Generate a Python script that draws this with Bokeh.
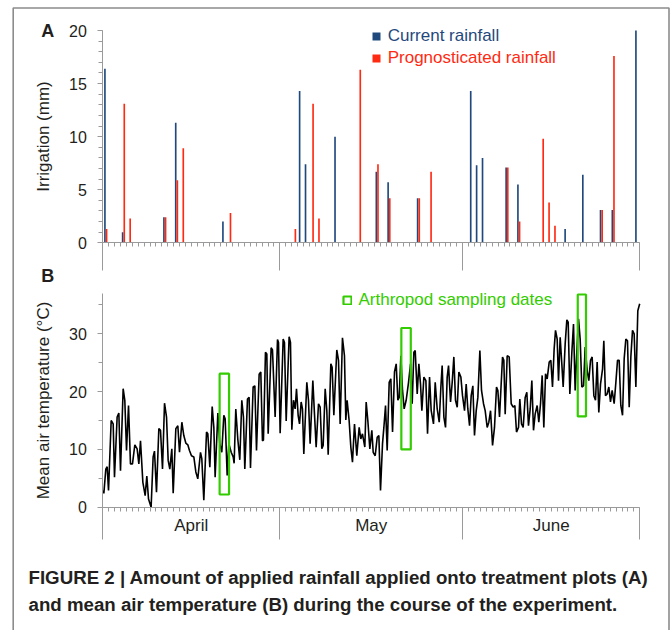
from bokeh.plotting import figure
from bokeh.models import (Range1d, FixedTicker, Label, ColumnDataSource, LinearAxis,
                          Legend, LegendItem, BoxAnnotation)
from bokeh.transform import dodge
from bokeh.embed import file_html
from bokeh.resources import INLINE

FONT = "Liberation Sans"
BLUE = "#1f497d"
RED = "#ff2a12"
GREEN = "#33cc00"
AX = "#9a9a9a"
TXT = "#231f20"

# ---------------- data ----------------
months = ["April", "May", "June"]
month_start = [0, 30, 61]
month_end = [30, 61, 91]

rain_day = [0, 3, 4, 10, 12, 13, 20, 21, 32, 33, 34, 35, 36, 39, 43, 46,
            48, 53, 55, 62, 63, 64, 68, 70, 74, 75, 76, 78, 81, 84, 86, 90]
current_mm = [16.4, 1.0, 0, 2.4, 11.3, 0, 2.0, 0, 0, 14.3, 7.4, 0, 0, 10.0, 0, 6.7,
              5.7, 4.2, 0, 14.3, 7.3, 8.0, 7.1, 5.5, 0, 0, 0, 1.3, 6.4, 3.1, 3.1, 20.0]
prog_mm = [1.3, 13.1, 2.3, 2.4, 5.9, 8.9, 0, 2.8, 1.3, 0, 0, 13.1, 2.3, 0, 16.3, 7.4,
           4.2, 4.2, 6.7, 0, 0, 0, 7.1, 2.0, 9.8, 3.8, 1.6, 0, 0, 3.1, 17.6, 0]

temp_day = [
    0.0, 0.18, 0.51, 0.74, 0.97, 1.42, 1.76, 1.98, 2.43, 2.72,
    3.0, 3.45, 3.73, 4.02, 4.36, 4.69, 5.03, 5.43, 5.82, 6.11,
    6.39, 6.79, 7.18, 7.46, 7.75, 8.19, 8.53, 8.76, 9.1, 9.5,
    9.78, 10.12, 10.46, 10.8, 11.08, 11.36, 11.7, 11.93, 12.38, 12.72,
    13.0, 13.4, 13.73, 14.07, 14.41, 14.69, 15.03, 15.43, 15.77, 16.1,
    16.56, 16.78, 17.12, 17.58, 17.8, 18.14, 18.54, 18.82, 19.04, 19.5,
    19.83, 20.17, 20.51, 20.74, 21.08, 21.36, 21.76, 22.1,
    22.26, 22.54, 22.88, 23.22, 23.56, 23.84, 24.07, 24.52, 24.8, 25.03,
    25.48, 25.77, 26.05, 26.5, 26.78, 27.06, 27.23, 27.57, 27.8, 28.03,
    28.53, 28.76, 29.21, 29.61, 29.78, 30.06, 30.57, 30.79, 31.08, 31.58,
    31.81, 32.04, 32.32, 32.6, 32.83, 33.11, 33.34, 33.62, 33.84, 34.07,
    34.58, 34.86, 35.14, 35.6, 35.88, 36.16, 36.56, 36.84, 37.12, 37.35,
    37.69, 37.97, 38.2, 38.65, 38.87, 39.16, 39.66, 39.95, 40.23, 40.62,
    40.96, 41.19, 41.41, 41.75, 42.04, 42.32, 42.66, 43.05, 43.45, 43.73,
    44.01, 44.41,
    44.64, 44.92, 45.26, 45.6, 45.83, 46.17, 46.51, 46.79, 47.07, 47.41,
    47.64, 47.92, 48.2, 48.54, 48.82, 49.11, 49.44, 49.73, 50.01, 50.24,
    50.52, 50.8, 51.08, 51.42, 51.82, 52.16, 52.44, 52.72, 52.95, 53.29,
    53.57, 53.85, 54.08, 54.42, 54.76, 55.04, 55.38, 55.66, 56.05, 56.34,
    56.68, 57.02, 57.3, 57.52, 57.81, 58.09, 58.37, 58.6, 58.94, 59.22,
    59.5, 59.78, 60.07, 60.35, 60.69, 60.97, 61.31, 61.59, 61.87, 62.16,
    62.44, 62.72, 63.0, 63.29, 63.57, 63.91, 64.19, 64.53, 64.81, 65.15,
    65.43, 65.72, 66.06, 66.39,
    66.73, 66.96, 67.24, 67.52, 67.75, 67.97, 68.2, 68.54, 68.88, 69.22,
    69.55, 69.84, 70.12, 70.46, 70.68, 70.97, 71.25, 71.59, 71.87, 72.15,
    72.44, 72.72, 73.0, 73.28, 73.62, 73.9, 74.19, 74.47, 74.75, 75.04,
    75.32, 75.66, 75.94, 76.22, 76.5, 76.73, 77.01, 77.24, 77.52, 77.8,
    78.03, 78.37, 78.65, 78.88, 79.16, 79.5, 79.78, 80.06, 80.35, 80.63,
    80.91, 81.19, 81.48, 81.76, 82.1, 82.38, 82.66, 82.94, 83.23, 83.51,
    83.79, 84.07, 84.36, 84.7, 84.92, 85.2, 85.49, 85.77, 86.05, 86.33,
    86.67, 86.96, 87.24, 87.52, 87.8, 88.09, 88.37, 88.65, 88.93, 89.22,
    89.5, 89.78, 90.06, 90.35, 90.68, 91.0,
]
temp_c = [
    2.9, 2.4, 6.6, 7.0, 2.9, 15.0, 14.4, 5.2, 15.6, 16.3,
    6.3, 20.5, 18.5, 9.8, 17.6, 7.5, 7.5, 10.8, 10.1, 7.5,
    11.5, 4.3, 2.0, 5.4, 1.4, 0.0, 8.7, 9.7, 2.6, 13.6,
    13.3, 6.6, 18.0, 15.6, 8.1, 6.6, 10.1, 2.4, 13.6, 14.1,
    9.5, 14.7, 12.4, 11.1, 10.8, 9.8, 8.9, 8.7, 6.1, 4.9,
    9.5, 8.4, 1.2, 13.0, 12.7, 6.9, 17.4, 13.8, 5.2, 16.3,
    11.0, 9.5, 15.9, 15.3, 5.5, 11.0, 9.5, 8.7,
    7.6, 17.0, 11.8, 8.2, 18.5, 15.6, 6.6, 18.7, 19.0, 6.8,
    20.8, 21.0, 9.8, 23.0, 23.4, 11.5, 11.6, 26.8, 26.5, 12.7,
    27.6, 27.2, 15.6, 29.0, 28.5, 12.8, 29.1, 28.5, 14.9, 29.5,
    28.5, 13.4, 18.5, 17.0, 20.5, 15.9, 14.4, 18.2, 17.0, 9.2,
    21.6, 18.5, 11.0, 21.9, 16.1, 10.4, 17.9, 17.3, 10.1, 10.7,
    20.5, 16.7, 9.1, 24.8, 24.2, 15.9, 27.2, 25.4, 14.4, 29.3,
    26.2, 15.1, 18.5, 15.0, 10.4, 7.8, 14.4, 8.9, 13.8, 11.8,
    12.7, 10.4,
    18.2, 15.0, 10.1, 13.3, 9.5, 8.9, 12.1, 12.4, 2.9, 11.0,
    13.8, 17.6, 9.8, 21.6, 22.2, 13.0, 23.4, 24.8, 18.5, 19.0,
    26.2, 20.2, 17.0, 18.5, 21.6, 24.8, 17.9, 26.8, 27.1, 19.6,
    24.8, 21.3, 16.7, 22.5, 21.9, 12.7, 22.5, 16.7, 14.4, 21.6,
    17.0, 14.7, 20.8, 24.5, 15.6, 13.8, 22.5, 24.5, 18.2, 21.6,
    26.0, 18.5, 17.3, 23.4, 22.5, 19.3, 16.7, 21.3, 17.0, 14.1,
    19.3, 21.0, 12.4, 16.7, 19.0, 27.1, 20.2, 17.9, 16.7, 13.8,
    14.7, 16.7, 10.7, 13.8,
    20.8, 20.2, 15.6, 21.3, 26.0, 25.4, 16.1, 26.2, 26.0, 17.9,
    17.3, 17.6, 13.0, 13.8, 18.7, 14.4, 13.8, 19.0, 19.9, 14.1,
    17.0, 21.9, 13.3, 16.1, 17.6, 14.7, 17.9, 22.8, 13.8, 23.1,
    22.2, 25.1, 25.4, 20.8, 27.4, 30.6, 29.1, 21.9, 29.4, 24.8,
    20.8, 28.3, 32.4, 32.0, 19.6, 26.8, 31.7, 20.2, 27.1, 32.6,
    29.1, 20.8, 21.0, 27.7, 23.6, 21.9, 25.4, 26.0, 19.3, 18.5,
    25.1, 16.4, 21.3, 23.9, 28.8, 19.3, 19.6, 20.8, 18.2, 20.2,
    17.9, 21.6, 25.4, 25.4, 17.6, 15.9, 25.7, 29.1, 28.8, 17.3,
    26.0, 30.6, 30.0, 20.8, 34.0, 35.2,
]

sampling_start = [19.8, 50.6, 80.5]
sampling_end = [21.4, 52.2, 81.9]
sampling_low = [2.2, 10.0, 15.7]
sampling_high = [23.1, 31.0, 36.8]

irr_ticks = [0, 5, 10, 15, 20]
temp_ticks = [0, 10, 20, 30]
temp_minor = [5, 15, 25, 35]

caption_1 = "FIGURE 2 | Amount of applied rainfall applied onto treatment plots (A)"
caption_2 = "and mean air temperature (B) during the course of the experiment."

# ---------------- layout (pixels of the page; the canvas sits at 0,0) ----------------
W, H = 670, 630
PX_DAY = 5.9               # px per day
X0 = 102.3                 # x of day 0
B_PX = 5.78                # px per degree, panel B
B_Y0 = 506.7               # y (from top) of 0 degC
A_PX = 10.615              # px per mm, panel A
A_Y0 = 242.3               # y (from top) of 0 mm
N_DAYS = month_end[-1]
bounds = month_start + [month_end[-1]]

x_rng = Range1d(-X0 / PX_DAY, (W - X0) / PX_DAY)
yB_rng = Range1d(-(H - B_Y0) / B_PX, B_Y0 / B_PX)
yA_rng = Range1d(-(H - A_Y0) / A_PX, A_Y0 / A_PX)

p = figure(width=W, height=H, x_range=x_rng, y_range=yB_rng,
           output_backend="svg", toolbar_location=None,
           x_axis_location=None, y_axis_location=None,
           min_border=0, min_border_left=0, min_border_right=0,
           min_border_top=0, min_border_bottom=0)
p.extra_y_ranges = {"A": yA_rng}
p.grid.visible = False
p.outline_line_color = None
p.background_fill_color = "white"
p.border_fill_color = "white"


def y_axis(range_name, top, ticks, minor, label):
    kw = dict(y_range_name=range_name) if range_name else {}
    ax = LinearAxis(fixed_location=0, bounds=(0, top), **kw)
    ax.ticker = FixedTicker(ticks=ticks, minor_ticks=minor)
    ax.axis_label = label
    ax.axis_label_text_font = FONT
    ax.axis_label_text_font_size = "17px"
    ax.axis_label_text_font_style = "normal"
    ax.axis_label_text_color = TXT
    ax.axis_label_standoff = 13
    ax.major_label_text_font = FONT
    ax.major_label_text_font_size = "16px"
    ax.major_label_text_color = TXT
    ax.major_label_standoff = 11
    ax.major_tick_out = 5
    ax.major_tick_in = 0
    ax.minor_tick_out = 4
    ax.minor_tick_in = 0
    ax.axis_line_color = AX
    ax.major_tick_line_color = AX
    ax.minor_tick_line_color = AX
    p.add_layout(ax, "left")


def x_axis(range_name, sep_len):
    kw = dict(y_range_name=range_name) if range_name else {}
    ax = LinearAxis(fixed_location=0, bounds=(0, N_DAYS), **kw)
    ax.ticker = FixedTicker(ticks=bounds, minor_ticks=list(range(N_DAYS + 1)))
    ax.major_tick_out = sep_len
    ax.major_tick_in = 0
    ax.minor_tick_out = 4
    ax.minor_tick_in = 0
    ax.major_label_text_color = None
    ax.axis_line_color = AX
    ax.major_tick_line_color = AX
    ax.minor_tick_line_color = AX
    p.add_layout(ax, "below")


# ---------------- panel A ----------------
y_axis("A", 20, irr_ticks, list(range(21)), "Irrigation (mm)")
x_axis("A", 28)

src = ColumnDataSource(dict(mid=[d + 0.5 for d in rain_day], cur=current_mm, prog=prog_mm))
rb = p.vbar(x=dodge("mid", -0.14), top="cur", width=0.28, source=src, y_range_name="A",
            fill_color=BLUE, line_color=None)
rr = p.vbar(x=dodge("mid", 0.14), top="prog", width=0.28, source=src, y_range_name="A",
            fill_color=RED, line_color=None)

# ---------------- panel B ----------------
y_axis(None, 37, temp_ticks, temp_minor, "Mean air temperature (°C)")
x_axis(None, 32)

mon_ax = LinearAxis(fixed_location=0, bounds=(0, N_DAYS))
mon_ax.ticker = FixedTicker(ticks=[(s + e) / 2 for s, e in zip(month_start, month_end)],
                            minor_ticks=[])
mon_ax.major_label_overrides = {(s + e) / 2: m for s, e, m in zip(month_start, month_end, months)}
mon_ax.axis_line_color = None
mon_ax.major_tick_line_color = None
mon_ax.minor_tick_line_color = None
mon_ax.major_tick_out = 0
mon_ax.major_tick_in = 0
mon_ax.major_label_standoff = 9
mon_ax.major_label_text_font = FONT
mon_ax.major_label_text_font_size = "17px"
mon_ax.major_label_text_color = TXT
p.add_layout(mon_ax, "below")

p.line(temp_day, temp_c, line_color="black", line_width=1.6)
rq = p.quad(left=sampling_start, right=sampling_end, bottom=sampling_low, top=sampling_high,
            fill_color=None, line_color=GREEN, line_width=2.2)


# ---------------- legends, panel letters, caption ----------------
def make_legend(label, rend, color, loc, gw, standoff):
    return Legend(items=[LegendItem(label=label, renderers=[rend])], location=loc,
                  glyph_width=gw, glyph_height=gw, label_standoff=standoff,
                  padding=0, margin=0, spacing=0, label_height=20,
                  border_line_color=None, background_fill_alpha=0,
                  label_text_font=FONT, label_text_font_size="17px",
                  label_text_color=color)


p.add_layout(make_legend("Current rainfall", rb, BLUE, (370.7, H - 46), 10, 7))
p.add_layout(make_legend("Prognosticated rainfall", rr, RED, (370.7, H - 68), 10, 7))
p.add_layout(make_legend("Arthropod sampling dates", rq, GREEN, (341.5, H - 309.5), 10, 7))

for letter, base in (("A", 40), ("B", 285)):
    p.add_layout(Label(x=40.7, y=H - base, x_units="screen", y_units="screen",
                       text=letter, text_font=FONT, text_font_size="18px",
                       text_font_style="bold", text_color=TXT))

for txt, base in ((caption_1, 587), (caption_2, 614)):
    p.add_layout(Label(x=28, y=H - base, x_units="screen", y_units="screen", text=txt,
                       text_font=FONT, text_font_size="18.7px", text_font_style="bold",
                       text_color=TXT))

# outer frame of the figure (open at the bottom)
p.add_layout(BoxAnnotation(left=12.7, right=668.5, bottom=-10, top=H - 7.5,
                           left_units="screen", right_units="screen",
                           bottom_units="screen", top_units="screen",
                           fill_color=None, fill_alpha=0, line_color="#8c8c8c",
                           line_width=1.6, line_alpha=1))

open("out.html", "w").write(file_html(p, INLINE))
